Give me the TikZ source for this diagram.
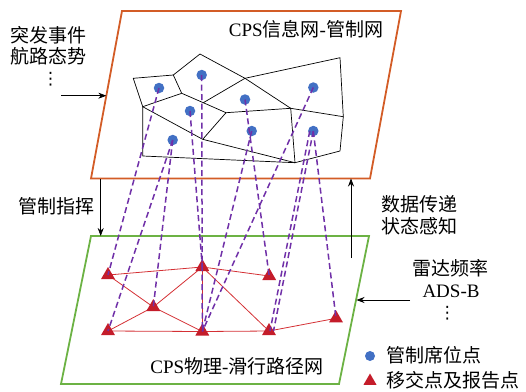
\documentclass[tikz,border=0pt]{standalone}
\usepackage{fontspec}
\setmainfont{Liberation Serif}
\newfontfamily\cjk{Noto Sans CJK SC}
\newfontfamily\symf{DejaVu Sans}
\usetikzlibrary{arrows.meta,shapes.geometric,calc}
\definecolor{orangeline}{RGB}{211,92,38}
\definecolor{greenline}{RGB}{108,178,68}
\definecolor{seatblue}{RGB}{66,112,196}
\definecolor{trired}{RGB}{196,28,42}
\definecolor{redline}{RGB}{212,48,52}
\definecolor{purpleline}{RGB}{112,48,168}
\begin{document}
\begin{tikzpicture}[x=1pt,y=-1pt,
  plane/.style={line width=1.8pt},
  net/.style={line width=0.7pt, black, line join=round},
  rnet/.style={line width=0.8pt, redline},
  vlink/.style={purpleline, line width=1.5pt, dash pattern=on 6pt off 3.5pt},
  seat/.style={circle, fill=seatblue, minimum size=10.5pt, inner sep=0pt},
  handoff/.style={regular polygon, regular polygon sides=3, fill=trired, minimum size=16pt, inner sep=0pt},
  lbl/.style={font=\fontsize{19}{21}\selectfont, inner sep=0pt},
  vdot/.style={font=\fontsize{17}{17}\selectfont\symf, inner sep=0pt},
  arr/.style={-{Stealth[length=8pt,width=6pt]}, line width=0.6pt, black}
]
\useasboundingbox (0,0) rectangle (526,391);

% planes
\draw[plane, orangeline] (122,11) -- (401,11) -- (370,178.5) -- (91,178.5) -- cycle;
\draw[plane, greenline] (91,236) -- (369,236) -- (339,384) -- (61,384) -- cycle;

% information network (polygon cells)
\coordinate (A) at (133.3,78.3);
\coordinate (B) at (173.3,75);
\coordinate (C) at (200,54);
\coordinate (D) at (245,78.3);
\coordinate (E) at (340,57.7);
\coordinate (F) at (343.3,116.7);
\coordinate (G) at (340,151);
\coordinate (H) at (295,162.7);
\coordinate (I) at (142.7,156);
\coordinate (J) at (142.7,106.7);
\coordinate (K) at (181.7,93.3);
\coordinate (L) at (203.3,102.7);
\coordinate (M) at (226,112.7);
\coordinate (N) at (202.7,139.3);
\coordinate (O) at (290.7,108.3);
\draw[net] (A) -- (B) -- (C) -- (D) -- (E) -- (F) -- (G) -- (H) -- (I) -- (J) -- cycle;
\draw[net] (B) -- (K) -- (J);
\draw[net] (J) -- (N) -- (H);
\draw[net] (K) -- (L) -- (M) -- (N);
\draw[net] (D) -- (L);
\draw[net] (M) -- (O) -- (F);
\draw[net] (D) -- (O) -- (H);

% seats
\node[seat] (d1) at (159,88) {};
\node[seat] (d2) at (201.7,75) {};
\node[seat] (d3) at (190,111) {};
\node[seat] (d4) at (245,99.5) {};
\node[seat] (d5) at (313.3,87.5) {};
\node[seat] (d6) at (172.7,140) {};
\node[seat] (d7) at (251.7,131) {};
\node[seat] (d8) at (313.3,131) {};

% physical network
\coordinate (p1) at (108,275);
\coordinate (p2) at (202.3,267);
\coordinate (p3) at (269.2,276);
\coordinate (p4) at (153.3,307);
\coordinate (p5) at (108,331);
\coordinate (p6) at (202.3,331.5);
\coordinate (p7) at (269,331);
\coordinate (p8) at (336,318.3);
\draw[rnet] (p1) -- (p2) -- (p3);
\draw[rnet] (p1) -- (p4) -- (p2);
\draw[rnet] (p5) -- (p4) -- (p6);
\draw[rnet] (p5) -- (p6) -- (p7) -- (p8);
\draw[rnet] (p2) -- (p6);
\draw[rnet] (p2) -- (p7);
\foreach \i in {1,...,8} {\node[handoff] (t\i) at (p\i) {};}

% vertical links
\draw[vlink] (d1.center) -- (t1.center);
\draw[vlink] (d2.center) -- (t6.center);
\draw[vlink] (d3.center) -- (t2.center);
\draw[vlink] (d4.center) -- (t3.center);
\draw[vlink] (d5.center) -- (t6.center);
\draw[vlink] (d6.center) -- (t4.center);
\draw[vlink] (d6.center) -- (t5.center);
\draw[vlink] (d7.center) -- (t6.center);
\draw[vlink] ([xshift=-3.5pt]d8.center) -- ([xshift=1pt]t7.center);
\draw[vlink] (d8.center) -- ([xshift=4.5pt]t7.center);
\draw[vlink] (d8.center) -- (t8.center);

% titles
\node[lbl] (top) at (306,29) {CPS{\cjk 信息网}-{\cjk 管制网}};
\node[lbl] (bottom) at (237,366.5) {CPS{\cjk 物理}-{\cjk 滑行路径网}};

% left inputs
\node[lbl, font=\fontsize{19}{21}\selectfont\cjk] (ev1) at (48,35.5) {突发事件};
\node[lbl, font=\fontsize{19}{21}\selectfont\cjk] (ev2) at (48,56) {航路态势};
\node[vdot] (ev3) at (50.7,79.5) {⋮};
\coordinate (inL) at (61,95.7);
\coordinate (edgeL) at (106.3,95.7);
\draw[arr] (inL) -- (edgeL);

% command arrow
\node[lbl, font=\fontsize{19}{21}\selectfont\cjk] (cmd) at (56.5,206) {管制指挥};
\coordinate (cmdS) at (100.7,178.5);
\coordinate (cmdE) at (100.7,236);
\draw[arr] (cmdS) -- (cmdE);

% data arrow
\node[lbl, font=\fontsize{19}{21}\selectfont\cjk] (dt1) at (419,204) {数据传递};
\node[lbl, font=\fontsize{19}{21}\selectfont\cjk] (dt2) at (419,226) {状态感知};
\coordinate (upS) at (351,258);
\coordinate (upE) at (351,178.5);
\draw[arr] (upS) -- (upE);

% right inputs
\node[lbl, font=\fontsize{19}{21}\selectfont\cjk] (rd1) at (450,268.5) {雷达频率};
\node[lbl] (rd2) at (451,291.5) {ADS-B};
\node[vdot] (rd3) at (447.3,313.5) {⋮};
\coordinate (inR) at (410,300);
\coordinate (edgeR) at (356.5,300);
\draw[arr] (inR) -- (edgeR);

% legend
\node[seat, minimum size=10pt] (lg1) at (370,356) {};
\node[lbl, font=\fontsize{19}{21}\selectfont\cjk, anchor=west] (lg1t) at (386,355.5) {管制席位点};
\node[handoff, minimum size=15pt] (lg2) at (370,381) {};
\node[lbl, font=\fontsize{19}{21}\selectfont\cjk, anchor=west] (lg2t) at (386,380.5) {移交点及报告点};
\end{tikzpicture}
\end{document}
